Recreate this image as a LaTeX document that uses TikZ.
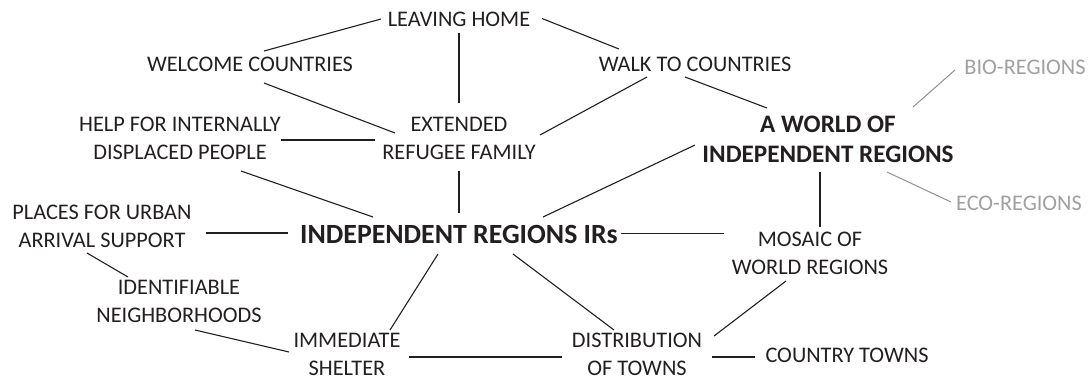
\documentclass[tikz,border=0pt]{standalone}
\usepackage{fontspec}
\setmainfont{Carlito}
\usetikzlibrary{calc}
\definecolor{ink}{HTML}{231F20}
\definecolor{soft}{HTML}{A0A0A0}
\definecolor{softline}{HTML}{909090}
\tikzset{
  lbl/.style={inner sep=0pt, align=center, text=ink, font=\fontsize{22.3}{28}\selectfont},
  glbl/.style={lbl, text=soft},
  blbl/.style={inner sep=0pt, align=center, text=ink, font=\fontsize{25.2}{30}\selectfont\bfseries},
  bigbl/.style={inner sep=0pt, align=center, text=ink, font=\fontsize{27.8}{32}\selectfont\bfseries},
  link/.style={draw=ink, line width=1.1pt},
  glink/.style={draw=softline, line width=1pt}
}
\begin{document}
\begin{tikzpicture}[x=1pt,y=-1pt]
\useasboundingbox (0,0) rectangle (1091,376);
\node[lbl] (lh) at (459,19.5) {LEAVING HOME};
\node[lbl] (wc) at (250,64) {WELCOME COUNTRIES};
\node[lbl] (wk) at (695,64) {WALK TO COUNTRIES};
\node[lbl] (ext) at (459,138.5) {EXTENDED\\REFUGEE FAMILY};
\node[lbl] (help) at (180,138.5) {HELP FOR INTERNALLY\\DISPLACED PEOPLE};
\node[blbl] (world) at (828,139.5) {A WORLD OF\\INDEPENDENT REGIONS};
\node[glbl] (bio) at (1025,67) {BIO-REGIONS};
\node[glbl] (eco) at (1019,203) {ECO-REGIONS};
\node[bigbl] (ir) at (459,234) {INDEPENDENT REGIONS IRs};
\node[lbl] (places) at (102,226.5) {PLACES FOR URBAN\\ARRIVAL SUPPORT};
\node[lbl] (ident) at (179,301.5) {IDENTIFIABLE\\NEIGHBORHOODS};
\node[lbl] (immed) at (347,354) {IMMEDIATE\\SHELTER};
\node[lbl] (dist) at (637,354) {DISTRIBUTION\\OF TOWNS};
\node[lbl] (mosaic) at (810,253) {MOSAIC OF\\WORLD REGIONS};
\node[lbl] (country) at (847,355) {COUNTRY TOWNS};

\draw[link] ($(lh)+(-78,-0.5)$) -- ($(wc)+(14,-13)$);
\draw[link] ($(lh)+(83,-1)$) -- ($(wk)+(-76,-15)$);
\draw[link] ($(lh)+(0,13.5)$) -- ($(ext)+(0,-35.5)$);
\draw[link] ($(wc)+(14,19)$) -- ($(ext)+(-64,-5.5)$);
\draw[link] ($(wk)+(-48,13)$) -- ($(ext)+(81,-3.5)$);
\draw[link] ($(wk)+(-10,13)$) -- ($(world)+(-61,-31.5)$);
\draw[link] ($(help)+(101,1.5)$) -- ($(ext)+(-84,1.5)$);
\draw[link] ($(help)+(61,32.5)$) -- ($(ir)+(-86,-17)$);
\draw[link] ($(ext)+(0,32.5)$) -- ($(ir)+(0,-21)$);
\draw[glink] ($(world)+(85,-32.5)$) -- ($(bio)+(-70,3)$);
\draw[link] ($(world)+(-133,5.5)$) -- ($(ir)+(84,-17)$);
\draw[link] ($(world)+(-8,32.5)$) -- ($(mosaic)+(10,-26)$);
\draw[glink] ($(world)+(59,32.5)$) -- ($(eco)+(-68,-1)$);
\draw[link] ($(places)+(104,6.5)$) -- ($(ir)+(-171,-1)$);
\draw[link] ($(places)+(-15,26.5)$) -- ($(ident)+(-51,-24.5)$);
\draw[link] ($(ident)+(16,28.5)$) -- ($(immed)+(-58,-2)$);
\draw[link] ($(ir)+(-21,20)$) -- ($(immed)+(43,-24)$);
\draw[link] ($(ir)+(54,20)$) -- ($(dist)+(-23,-24)$);
\draw[link] ($(ir)+(162,-0.5)$) -- ($(mosaic)+(-86,-19.5)$);
\draw[link] ($(immed)+(62,3)$) -- ($(dist)+(-75,3)$);
\draw[link] ($(mosaic)+(-24,28)$) -- ($(dist)+(77,-18)$);
\draw[link] ($(dist)+(75,3)$) -- ($(country)+(-92,2)$);
\end{tikzpicture}
\end{document}
